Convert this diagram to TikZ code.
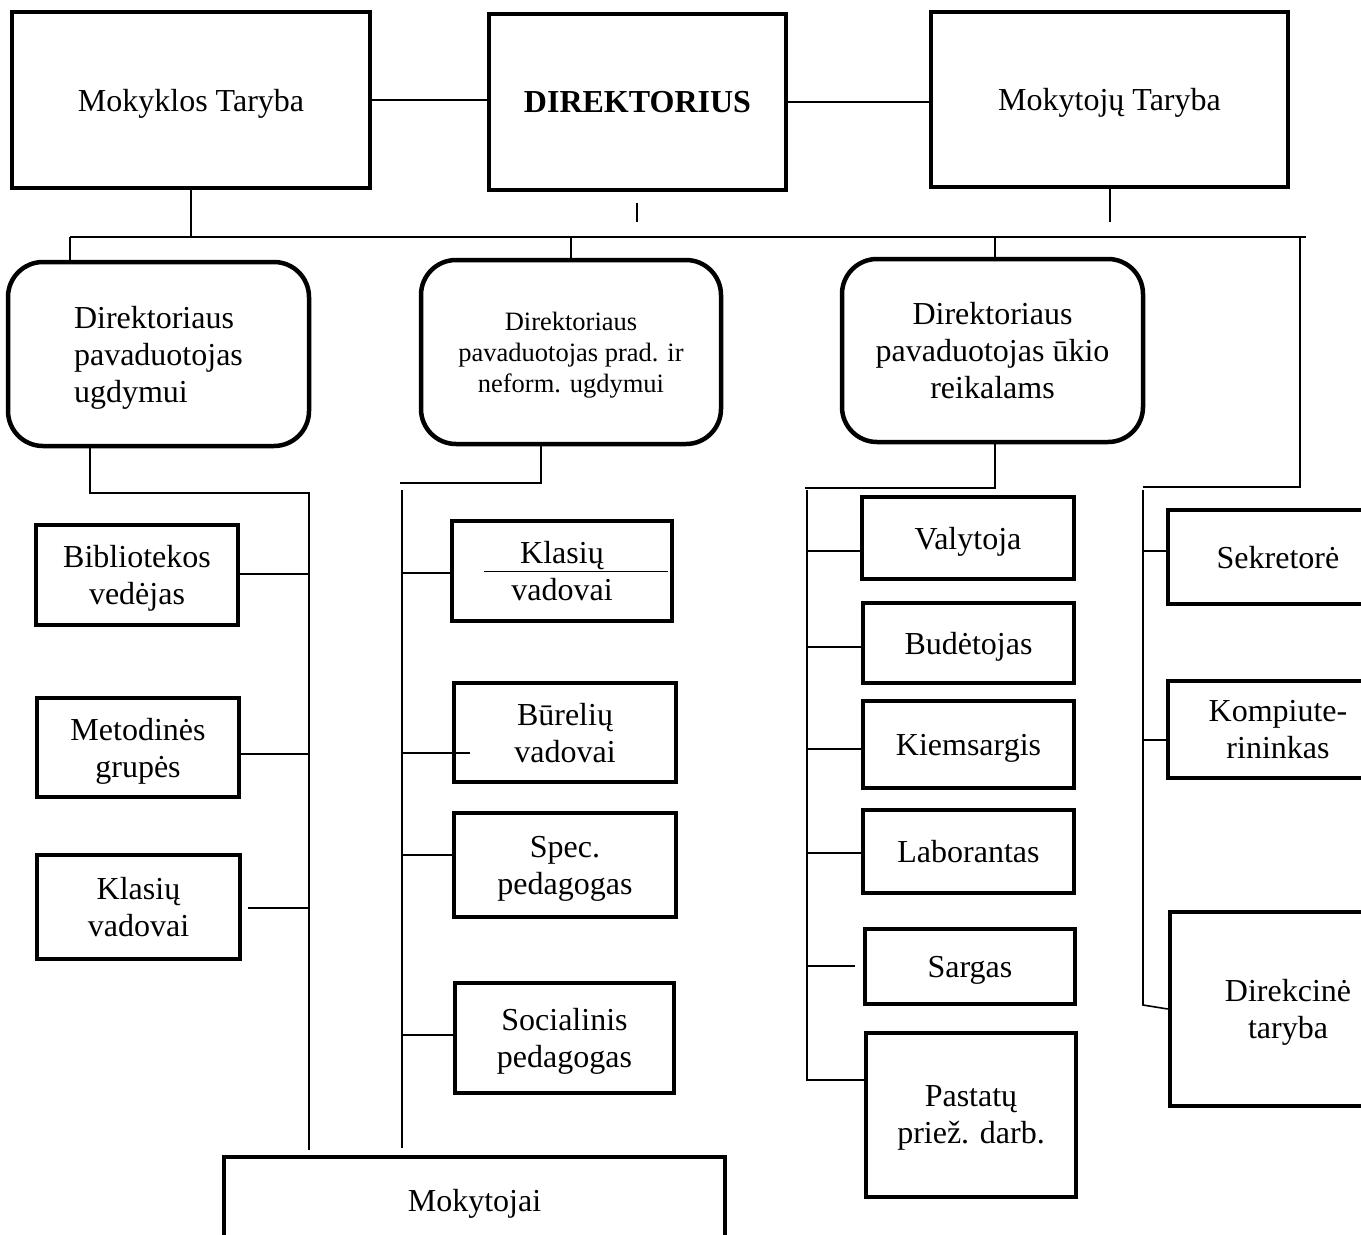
\documentclass[tikz,border=0pt]{standalone}
\usepackage{fontspec}
\setmainfont{Liberation Serif}
\begin{document}
\begin{tikzpicture}[x=1pt,y=-1pt,
  big/.style={font=\fontsize{32}{37}\selectfont},
  small/.style={font=\fontsize{26.5}{31}\selectfont},
  box/.style={draw, line width=4.5pt, inner sep=0pt, align=center, text depth=0pt, big},
  rbox/.style={box, rounded corners=35pt},
  conn/.style={line width=1.6pt},
  thin/.style={line width=1pt}]
\useasboundingbox (0,0) rectangle (1361,1235);
\clip (0,0) rectangle (1361,1235);
\fill[white] (0,0) rectangle (1361,1235);
% top row
\node[box, minimum width=358pt, minimum height=176pt] (mt) at (191,100) {Mokyklos Taryba};
\node[box, minimum width=297pt, minimum height=176pt, font=\fontsize{32}{37}\selectfont\bfseries] (dir) at (637.5,102) {DIREKTORIUS};
\node[box, minimum width=357pt, minimum height=175pt] (mkt) at (1109.5,99.5) {Mokytojų Taryba};
% deputies
\node[rbox, minimum width=301pt, minimum height=184pt, align=left] (pA) at (158.5,354) {Direktoriaus\\pavaduotojas\\ugdymui};
\node[rbox, minimum width=300pt, minimum height=184pt, small] (pB) at (571,352) {Direktoriaus\\pavaduotojas prad. ir\\neform. ugdymui};
\node[rbox, minimum width=301pt, minimum height=183pt] (pC) at (992.5,350.5) {Direktoriaus\\pavaduotojas ūkio\\reikalams};
% group A
\node[box, minimum width=202pt, minimum height=100pt] (bib) at (137,575) {Bibliotekos\\vedėjas};
\node[box, minimum width=202pt, minimum height=99pt] (met) at (138,747.5) {Metodinės\\grupės};
\node[box, minimum width=203pt, minimum height=104pt] (klA) at (138.5,907) {Klasių\\vadovai};
% group B
\node[box, minimum width=220pt, minimum height=100pt] (klB) at (562,571) {Klasių\\vadovai};
\node[box, minimum width=222pt, minimum height=99pt] (bur) at (565,732.5) {Būrelių\\vadovai};
\node[box, minimum width=222pt, minimum height=104pt] (spec) at (565,865) {Spec.\\pedagogas};
\node[box, minimum width=219pt, minimum height=110pt] (soc) at (564.5,1038) {Socialinis\\pedagogas};
\node[box, minimum width=501pt, minimum height=86pt] (mok) at (474.5,1200) {Mokytojai};
% group C
\node[box, minimum width=212pt, minimum height=82pt] (val) at (968,538) {Valytoja};
\node[box, minimum width=211pt, minimum height=80pt] (bud) at (968.5,643) {Budėtojas};
\node[box, minimum width=211pt, minimum height=87pt] (kie) at (968.5,744.5) {Kiemsargis};
\node[box, minimum width=211pt, minimum height=83pt] (lab) at (968.5,851.5) {Laborantas};
\node[box, minimum width=210pt, minimum height=75pt] (sar) at (970,966.5) {Sargas};
\node[box, minimum width=210pt, minimum height=164pt] (past) at (971,1115) {Pastatų\\priež. darb.};
% right group
\node[box, minimum width=220pt, minimum height=94pt] (sek) at (1278,557) {Sekretorė};
\node[box, minimum width=220pt, minimum height=97pt] (komp) at (1278,729.5) {Kompiute-\\rininkas};
\node[box, minimum width=236pt, minimum height=194pt] (dk) at (1288,1009) {Direkcinė\\taryba};
% top connectors
\draw[conn] (mt.east) -- (dir.west |- mt.east);
\draw[conn] (dir.east) -- (mkt.west |- dir.east);
\coordinate (bL) at (70,237);
\coordinate (bR) at (1306,237);
\draw[conn] (bL) -- (bR);
\draw[conn] (mt.south) -- (mt.south |- bL);
\coordinate (s1a) at (637,203); \coordinate (s1b) at (637,222);
\draw[conn] (s1a) -- (s1b);
\draw[conn] (mkt.south -| 1110,0) -- (1110,222);
\draw[conn] (bL) -- (pA.north -| bL);
\draw[conn] (pB.north) -- (pB.north |- bL);
\draw[conn] (pC.north -| 995,0) -- (995,237);
\draw[conn] (1300,237) -- (1300,487) -- (1143,487);
% group A connectors
\draw[conn] (pA.south -| 90,0) -- (90,493) -- (309,493) -- (309,1150);
\draw[conn] (bib.east |- 0,574) -- (309,574);
\draw[conn] (met.east |- 0,754) -- (309,754);
\draw[conn] (248,908) -- (309,908);
% group B connectors
\draw[conn] (pB.south -| 541,0) -- (541,483) -- (400,483);
\draw[conn] (402,490) -- (402,1148);
\draw[conn] (402,573) -- (klB.west |- 0,573);
\draw[conn] (402,753) -- (470,753);
\draw[conn] (402,855) -- (spec.west |- 0,855);
\draw[conn] (402,1035) -- (soc.west |- 0,1035);
\draw[thin] (484,571) -- (668,571);
% group C connectors
\draw[conn] (pC.south -| 995,0) -- (995,488) -- (805,488);
\draw[conn] (807,490) -- (807,1080) -- (past.west |- 0,1080);
\draw[conn] (807,551) -- (val.west |- 0,551);
\draw[conn] (807,647) -- (bud.west |- 0,647);
\draw[conn] (807,749) -- (kie.west |- 0,749);
\draw[conn] (807,853) -- (lab.west |- 0,853);
\draw[conn] (807,966) -- (855,966);
% right group connectors
\draw[conn] (1143,490) -- (1143,1005) -- (dk.west);
\draw[conn] (1143,551) -- (sek.west |- 0,551);
\draw[conn] (1143,740) -- (komp.west |- 0,740);
\end{tikzpicture}
\end{document}
